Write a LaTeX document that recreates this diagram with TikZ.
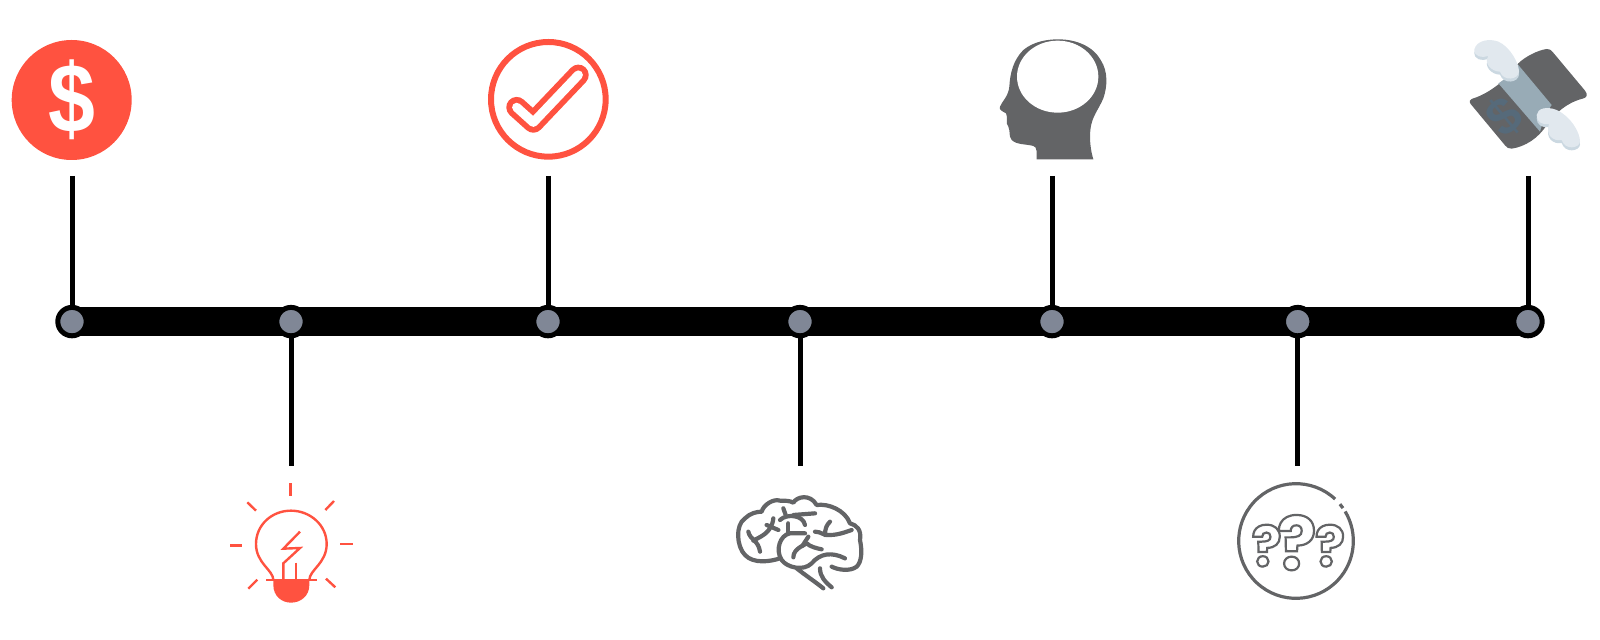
\documentclass[tikz,border=0pt]{standalone}
\usepackage{fontspec}
\setmainfont{Liberation Sans}
\newfontfamily\quizfont{Poppins}
\usepackage{tikz}
\definecolor{iconred}{HTML}{FF5240}
\definecolor{icongrey}{HTML}{636466}
\definecolor{dotgrey}{HTML}{808796}
\definecolor{bandblue}{HTML}{98ABB6}
\definecolor{signblue}{HTML}{566A7A}
\definecolor{wingpale}{HTML}{E1E8EE}
\definecolor{wingshade}{HTML}{CBD8E1}
\pgfdeclarelayer{background1}
\pgfsetlayers{background1,main}
\tikzstyle{dot}=[circle,draw=black,fill=dotgrey,line width=2.5pt,inner sep=0pt,minimum size=14.2pt]
\tikzstyle{bar}=[line width=14.5pt]
\tikzstyle{stem}=[line width=2.5pt]
\tikzstyle{coin}=[circle,fill=iconred,inner sep=0pt,minimum size=60pt]
\tikzstyle{bulbline}=[draw=iconred,line width=1.2pt]
\tikzstyle{brainline}=[draw=icongrey,line width=2.1pt,line cap=round,line join=round]
\tikzstyle{quiz}=[inner sep=0pt,font=\quizfont\bfseries]
% zoomed coordinates for the drawn icons
\tikzstyle{icon}=[x=0.16667pt,y=-0.16667pt]
\newcommand*{\outlined}[1]{\special{pdf:code 1 Tr 1.1 w .388 .392 .4 RG}#1\special{pdf:code 0 Tr}}
\begin{document}
\begin{tikzpicture}[x=0.5pt,y=-0.5pt]
  \useasboundingbox (0,0) rectangle (1600,640);
  % timeline
  \foreach \k/\xpos in {1/72,2/291,3/548,4/800,5/1052,6/1297.7,7/1528} {
    \node[dot] (dot\k) at (\xpos,321.6) {};
  }
  \foreach \k/\xpos in {1/72,3/548,5/1052,7/1528} {
    \coordinate (stem\k) at (\xpos,176);
  }
  \foreach \k/\xpos in {2/291,4/800,6/1297.7} {
    \coordinate (stem\k) at (\xpos,466);
  }
  \begin{pgfonlayer}{background1}
    \draw[bar] (dot1.center) -- (dot7.center);
    \foreach \k in {1,...,7} {
      \draw[stem] (stem\k) -- (dot\k.center);
    }
  \end{pgfonlayer}
  % dollar
  \node[coin] (dollar) at (71.7,100) {};
  \node[inner sep=0pt,text=white,xscale=0.86,font=\fontsize{49}{49}\selectfont\bfseries] (dollarsign) at (71.7,100) {\$};
  % bulb
  \begin{scope}[shift={(210,470)},icon]
    \draw[bulbline] (190,330) .. controls (190,300) and (138,280) .. (138,222)
      .. controls (138,165) and (185,122) .. (243,122)
      .. controls (300,122) and (350,165) .. (350,222)
      .. controls (350,280) and (298,300) .. (298,330);
    \fill[iconred] (190,330) -- (190,345) .. controls (190,378) and (215,398) .. (243,398)
      .. controls (272,398) and (298,378) .. (298,345) -- (298,330) -- cycle;
    \draw[bulbline] (168,330) -- (322,330);
    \draw[bulbline] (270,185) -- (220,236) -- (270,234) -- (220,280) -- (220,330);
    \draw[bulbline] (258,278) -- (258,330);
    \foreach \xa/\ya/\xb/\yb in {241/40/241/78,112/97/138/122,372/93/346/120,60/227/97/227,390/222/428/222,142/329/115/356,348/326/376/352} {
      \draw[bulbline] (\xa,\ya) -- (\xb,\yb);
    }
  \end{scope}
  % check
  \begin{scope}[shift={(470,30)},icon]
    \draw[iconred,line width=3pt] (235,208) circle (172);
    \draw[iconred,line width=2.9pt,double=white,double distance=4.6pt,line join=round,line cap=round]
      (140,232) -- (190,277) -- (325,135);
  \end{scope}
  % brain
  \begin{scope}[shift={(725,480)},icon]
    \draw[brainline] (165,235) .. controls (135,245) and (85,252) .. (60,225)
      .. controls (35,200) and (30,135) .. (60,115)
      .. controls (75,100) and (95,95) .. (110,95)
      .. controls (115,75) and (145,55) .. (165,62)
      .. controls (180,62) and (195,62) .. (205,68)
      .. controls (215,50) and (255,40) .. (275,75)
      .. controls (310,70) and (360,90) .. (375,130)
      .. controls (395,135) and (410,150) .. (405,180)
      .. controls (412,215) and (410,245) .. (395,260)
      .. controls (375,275) and (340,270) .. (320,260);
    \draw[brainline] (240,160) -- (195,160) .. controls (165,165) and (150,210) .. (170,240)
      .. controls (185,262) and (235,275) .. (260,250)
      .. controls (285,220) and (320,215) .. (360,235);
    \draw[brainline] (215,265) .. controls (240,285) and (270,305) .. (295,325);
    \draw[brainline] (285,265) .. controls (285,290) and (300,305) .. (320,322);
    \draw[brainline] (270,155) .. controls (290,155) and (295,168) .. (315,165)
      .. controls (340,165) and (365,155) .. (380,150);
    \draw[brainline] (300,165) .. controls (300,145) and (305,135) .. (315,125);
    \draw[brainline] (70,155) .. controls (75,180) and (100,180) .. (105,215);
    \draw[brainline] (85,182) .. controls (105,170) and (140,160) .. (145,115);
    \draw[brainline] (125,135) -- (160,150);
    \draw[brainline] (165,120) .. controls (185,100) and (235,105) .. (240,135);
    \draw[brainline] (175,85) -- (182,105);
    \draw[brainline] (205,105) -- (270,100);
    \draw[brainline] (190,130) -- (190,160);
    \draw[brainline] (205,232) .. controls (205,205) and (240,195) .. (245,190)
      .. controls (255,200) and (275,205) .. (290,208);
    \draw[brainline] (232,198) -- (250,170);
  \end{scope}
  % head
  \begin{scope}[shift={(980,30)},icon]
    \fill[icongrey] (170,388) .. controls (170,370) and (172,350) .. (160,348)
      .. controls (140,342) and (110,345) .. (95,330)
      .. controls (85,318) and (92,305) .. (85,290)
      .. controls (75,280) and (85,262) .. (78,250)
      .. controls (70,245) and (55,240) .. (60,230)
      .. controls (65,215) and (85,200) .. (88,170)
      .. controls (90,130) and (100,90) .. (130,60)
      .. controls (160,35) and (200,28) .. (235,28)
      .. controls (290,28) and (340,50) .. (362,90)
      .. controls (385,125) and (382,170) .. (370,205)
      .. controls (355,240) and (335,260) .. (331,300)
      .. controls (328,335) and (333,365) .. (340,388) -- cycle;
    \fill[white] (233,140) ellipse (122 and 108);
  \end{scope}
  % question marks
  \begin{scope}[shift={(1225,475)},icon]
    \draw[icongrey,line width=1.6pt] (213,198) ++(-47:172) arc[start angle=-47,end angle=-391,radius=172];
    \draw[icongrey,line width=1.6pt] (213,198) ++(-40:172) arc[start angle=-40,end angle=-35,radius=172];
    \node[quiz,font=\quizfont\bfseries\fontsize{28}{28}\selectfont] (quiz1) at (125,212) {\outlined{?}};
    \node[quiz,font=\quizfont\bfseries\fontsize{37}{37}\selectfont] (quiz2) at (215,203) {\outlined{?}};
    \node[quiz,font=\quizfont\bfseries\fontsize{28}{28}\selectfont] (quiz3) at (315,212) {\outlined{?}};
  \end{scope}
  % flying money
  \begin{scope}[shift={(1450,30)},icon]
    \fill[icongrey] (70,205) .. controls (120,190) and (180,140) .. (205,100)
      .. controls (225,80) and (265,60) .. (290,57)
      .. controls (298,56) and (303,60) .. (308,66)
      -- (405,182) .. controls (415,195) and (410,203) .. (398,206)
      .. controls (350,218) and (315,250) .. (290,285)
      .. controls (265,325) and (225,350) .. (185,356)
      .. controls (175,357) and (170,352) .. (165,346)
      -- (62,222) .. controls (56,214) and (60,208) .. (70,205) -- cycle;
    \fill[bandblue] (145,160) .. controls (170,145) and (190,125) .. (205,105)
      -- (305,225) .. controls (290,245) and (280,270) .. (270,305) -- cycle;
    \node[inner sep=0pt,text=signblue,font=\fontsize{26}{26}\selectfont\bfseries,rotate=40] (sign) at (163,262) {\$};
    \foreach \wingcol/\lift in {wingshade/9,wingpale/0} {
      \fill[\wingcol,yshift=-\lift*0.16667pt] (73,58) .. controls (80,30) and (120,25) .. (145,35)
        .. controls (180,50) and (207,100) .. (207,125)
        .. controls (205,150) and (160,155) .. (150,125)
        .. controls (125,125) and (100,100) .. (115,78)
        .. controls (95,85) and (72,80) .. (73,58) -- cycle;
      \fill[\wingcol,yshift=-\lift*0.16667pt] (260,255) .. controls (262,235) and (290,228) .. (320,240)
        .. controls (360,258) and (390,305) .. (390,335)
        .. controls (388,355) and (345,362) .. (335,330)
        .. controls (310,335) and (285,315) .. (297,282)
        .. controls (280,287) and (258,275) .. (260,255) -- cycle;
    }
  \end{scope}
\end{tikzpicture}
\end{document}
